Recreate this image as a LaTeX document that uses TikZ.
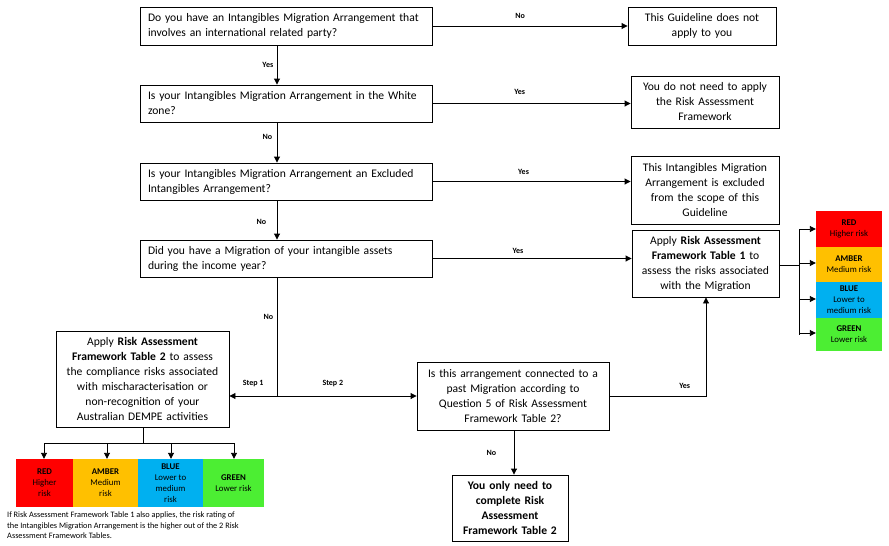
\documentclass[tikz,border=0pt]{standalone}
\usepackage{fontspec}
\setmainfont{Carlito}
\usetikzlibrary{arrows.meta}
\definecolor{cred}{HTML}{FF0000}
\definecolor{camber}{HTML}{FFC000}
\definecolor{cblue}{HTML}{00B0F0}
\definecolor{cgreen}{HTML}{4CEE33}
\begin{document}
\begin{tikzpicture}[x=1pt,y=-1pt,
  box/.style={draw,line width=0.9pt,inner sep=0pt,font=\fontsize{11.6}{15}\selectfont},
  qbox/.style={box,align=left},
  abox/.style={box,align=center},
  lab/.style={font=\fontsize{8}{9}\selectfont\bfseries},
  conn/.style={line width=0.9pt},
  arr/.style={conn,-{Triangle[length=6pt,width=6pt]}},
  risk/.style={inner sep=0pt,align=center,font=\fontsize{8.8}{11}\selectfont},
]
\useasboundingbox (0,0) rectangle (889,546);
% questions
\node[qbox,minimum width=292,minimum height=38,text width=276] (q1) at (286,26) {Do you have an Intangibles Migration Arrangement that\\involves an international related party?};
\node[qbox,minimum width=292,minimum height=37,text width=276] (q2) at (286,103.5) {Is your Intangibles Migration Arrangement in the White\\zone?};
\node[qbox,minimum width=292,minimum height=37,text width=276] (q3) at (286,181.5) {Is your Intangibles Migration Arrangement an Excluded\\Intangibles Arrangement?};
\node[qbox,minimum width=292,minimum height=37,text width=276] (q4) at (286,258.5) {Did you have a Migration of your intangible assets\\during the income year?};
% results
\node[abox,minimum width=148,minimum height=38,text width=140] (r1) at (702,26) {This Guideline does not\\apply to you};
\node[abox,minimum width=148,minimum height=52,text width=140] (r2) at (705,102) {You do not need to apply\\the Risk Assessment\\Framework};
\node[abox,minimum width=148,minimum height=68,text width=140] (r3) at (705,190) {This Intangibles Migration\\Arrangement is excluded\\from the scope of this\\Guideline};
\node[abox,minimum width=147,minimum height=67,text width=140] (r4) at (705.5,263.5) {Apply \textbf{Risk Assessment}\\\textbf{Framework Table 1} to\\assess the risks associated\\with the Migration};
\node[abox,minimum width=173,minimum height=96,text width=168] (lb) at (142.5,379) {Apply \textbf{Risk Assessment}\\\textbf{Framework Table 2} to assess\\the compliance risks associated\\with mischaracterisation or\\non-recognition of your\\Australian DEMPE activities};
\node[abox,minimum width=192,minimum height=68,text width=186] (q5) at (513,396) {Is this arrangement connected to a\\past Migration according to\\Question 5 of Risk Assessment\\Framework Table 2?};
\node[abox,minimum width=116,minimum height=66,text width=112,font=\fontsize{11.6}{15}\selectfont\bfseries] (en) at (510,508) {You only need to\\complete Risk\\Assessment\\Framework Table 2};
% right risk column
\node[risk,fill=cred,minimum width=66,minimum height=36] (rr) at (849,229) {\textbf{RED}\\Higher risk};
\node[risk,fill=camber,minimum width=66,minimum height=35] (ra) at (849,264.5) {\textbf{AMBER}\\Medium risk};
\node[risk,fill=cblue,minimum width=66,minimum height=36] (rb) at (849,300) {\textbf{BLUE}\\Lower to\\medium risk};
\node[risk,fill=cgreen,minimum width=66,minimum height=33] (rg) at (849,334.5) {\textbf{GREEN}\\Lower risk};
% bottom risk row
\node[risk,fill=cred,minimum width=57,minimum height=48] (br) at (44.5,483) {\textbf{RED}\\Higher\\risk};
\node[risk,fill=camber,minimum width=65,minimum height=48] (ba) at (105.5,483) {\textbf{AMBER}\\Medium\\risk};
\node[risk,fill=cblue,minimum width=65,minimum height=48] (bb) at (170.5,483) {\textbf{BLUE}\\Lower to\\medium\\risk};
\node[risk,fill=cgreen,minimum width=61,minimum height=48] (bg) at (233.5,483) {\textbf{GREEN}\\Lower risk};
\node[anchor=north west,inner sep=0pt,align=left,font=\fontsize{8.3}{10.5}\selectfont] (fn) at (7,512) {If Risk Assessment Framework Table 1 also applies, the risk rating of\\the Intangibles Migration Arrangement is the higher out of the 2 Risk\\Assessment Framework Tables.};
% coordinates
\coordinate (vx) at (277,0);
\coordinate (sp) at (277,396);
\coordinate (yx) at (706,396);
\coordinate (rs) at (799,265);
\coordinate (bs) at (143,443);
% horizontal connectors
\draw[arr] (q1.east) -- (r1.west) node[lab,pos=0.45,above=4pt] {No};
\draw[arr] (q2.east) -- (q2.east -| r2.west) node[lab,pos=0.44,above=5pt] {Yes};
\draw[arr] (q3.east) -- (q3.east -| r3.west) node[lab,pos=0.46,above=3pt] {Yes};
\draw[arr] (q4.east) -- (q4.east -| r4.west) node[lab,pos=0.43,above=1pt] {Yes};
% vertical chain
\draw[arr] (q1.south -| vx) -- (q2.north -| vx) node[lab,midway,left=0pt] {Yes};
\draw[arr] (q2.south -| vx) -- (q3.north -| vx) node[lab,pos=0.35,left=1pt] {No};
\draw[arr] (q3.south -| vx) -- (q4.north -| vx) node[lab,pos=0.55,left=7pt] {No};
\draw[conn] (q4.south -| vx) -- (sp) node[lab,pos=0.33,left=0pt] {No};
\draw[arr] (sp) -- (lb.east |- sp) node[lab,midway,above=5pt] {Step 1};
\draw[arr] (sp) -- (q5.west) node[lab,pos=0.4,above=5pt] {Step 2};
\draw[arr] (q5.east) -- (yx) node[lab,pos=0.78,above=4pt] {Yes} -- (r4.south -| yx);
\draw[arr] (q5.south -| en.north) ++(4,0) coordinate (q5b) -- (q5b |- en.north) node[lab,midway,left=14pt] {No};
% right split
\draw[conn] (r4.east |- rs) -- (rs);
\draw[conn] (rs |- rr) -- (rs |- rg);
\draw[arr] (rs |- rr) -- (rr.west);
\draw[arr] (rs |- 0,263) -- (ra.west |- 0,263);
\draw[arr] (rs |- 0,299) -- (rb.west |- 0,299);
\draw[arr] (rs |- 0,333) -- (rg.west |- 0,333);
% bottom split
\draw[conn] (lb.south -| bs) -- (bs);
\draw[conn] (44,443) -- (234,443);
\draw[arr] (44,443) -- (44,0 |- br.north);
\draw[arr] (107,443) -- (107,0 |- ba.north);
\draw[arr] (171,443) -- (171,0 |- bb.north);
\draw[arr] (234,443) -- (234,0 |- bg.north);
\end{tikzpicture}
\end{document}
